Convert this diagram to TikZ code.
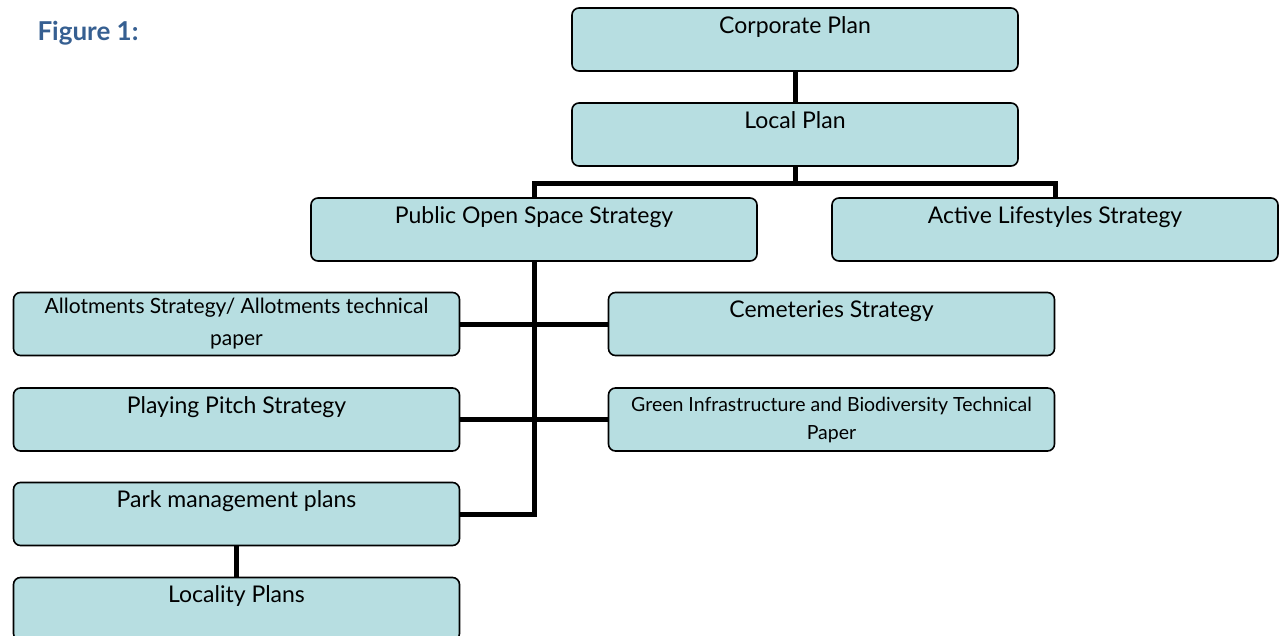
\documentclass[tikz,border=0pt]{standalone}
\usepackage{fontspec}
\setmainfont{Lato}
\definecolor{boxfill}{RGB}{183,222,225}
\definecolor{titleblue}{RGB}{54,95,145}
\begin{document}
\begin{tikzpicture}[x=1pt,y=-1pt,
  box/.style={draw=black,line width=1.6pt,fill=boxfill,rounded corners=7pt,
    minimum width=446pt,minimum height=63pt,inner sep=0pt,align=center,
    font=\fontsize{23}{29}\selectfont},
  conn/.style={line width=5pt},
]
\useasboundingbox (0,0) rectangle (1282,635);
\node[anchor=west,font=\fontsize{26}{30}\selectfont\bfseries,text=titleblue] (title) at (34,33) {Figure 1:};
\node[box] (corp) at (795,39.5) {Corporate Plan\\\mbox{}};
\node[box] (local) at (795,134.5) {Local Plan\\\mbox{}};
\node[box] (pos) at (534,229.5) {Public Open Space Strategy\\\mbox{}};
\node[box] (als) at (1055,229.5) {Active Lifestyles Strategy\\\mbox{}};
\node[box,font=\fontsize{21}{32}\selectfont] (allot) at (236.5,324) {Allotments Strategy/ Allotments technical\\paper};
\node[box] (cem) at (831.5,324) {Cemeteries Strategy\\\mbox{}};
\node[box] (pitch) at (236.5,419.5) {Playing Pitch Strategy\\\mbox{}};
\node[box,font=\fontsize{19.5}{28}\selectfont] (green) at (831.5,419.5) {Green Infrastructure and Biodiversity Technical\\Paper};
\node[box] (park) at (236.5,514) {Park management plans\\\mbox{}};
\node[box] (loc) at (236.5,609) {Locality Plans\\\mbox{}};
\coordinate (bar) at (795,183);
\coordinate (trunk) at (pos.south |- park.east);
\draw[conn] (corp.south) -- (local.north);
\draw[conn] (local.south) -- (bar);
\draw[conn] (pos.north) |- (bar) -| (als.north);
\draw[conn] (pos.south) -- (trunk) -- (park.east);
\draw[conn] (allot.east) -- (cem.west);
\draw[conn] (pitch.east) -- (green.west);
\draw[conn] (park.south) -- (loc.north);
\end{tikzpicture}
\end{document}
